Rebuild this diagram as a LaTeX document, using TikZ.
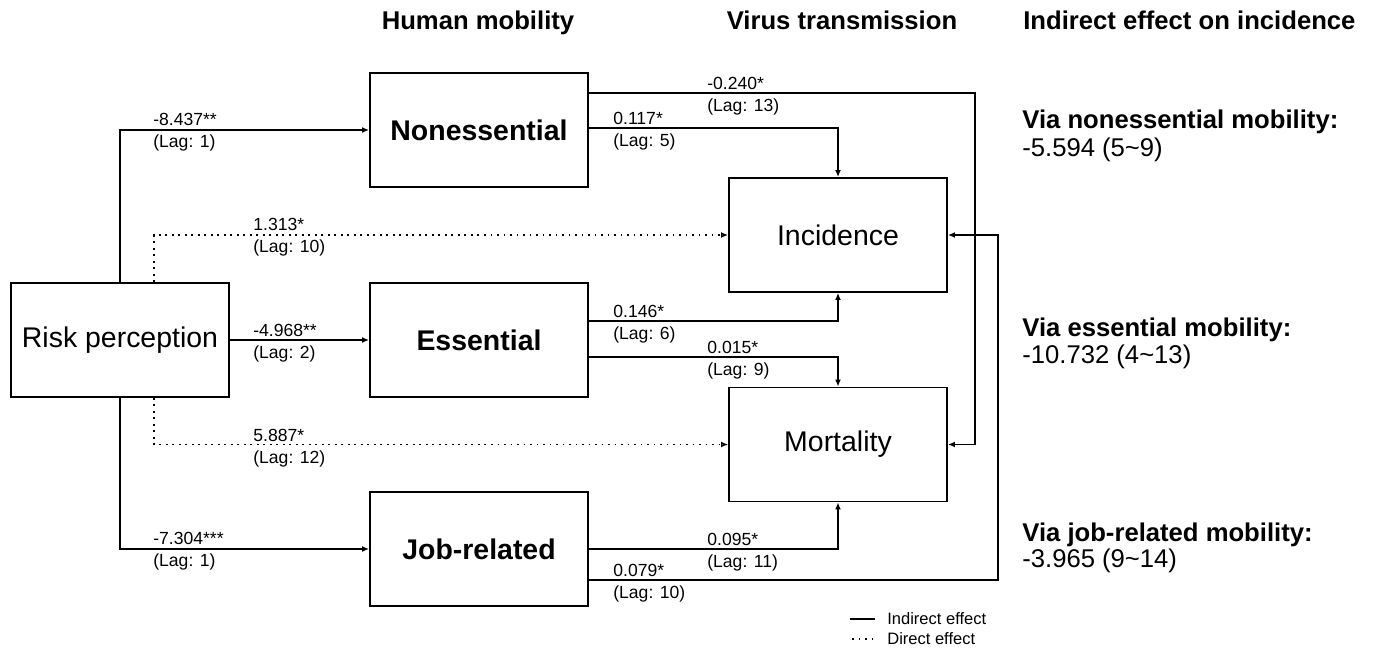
\documentclass[tikz,border=0pt]{standalone}
\usepackage{fontspec}
\setmainfont{Liberation Sans}
\usetikzlibrary{arrows.meta}
\usetikzlibrary{calc}

\tikzset{
	box/.style={draw, line width=1.1pt, minimum width=4.36cm, minimum height=2.28cm, inner sep=0pt, font=\fontsize{16.2}{19}\selectfont},
	head/.style={font=\fontsize{14.6}{17}\bfseries, inner sep=0pt, anchor=base},
	coef/.style={font=\fontsize{10}{12}\selectfont, anchor=west, inner sep=0pt},
	viahead/.style={font=\fontsize{14.6}{17}\bfseries, anchor=west, inner sep=0pt},
	viaval/.style={font=\fontsize{14.6}{17}\selectfont, anchor=west, inner sep=0pt},
	legtext/.style={font=\fontsize{9.4}{11}\selectfont, anchor=west, inner sep=0pt},
	link/.style={line width=1.1pt},
	dotline/.style={line width=1pt, dash pattern=on 1.1pt off 2.6pt},
	effect/.style={link, -{Latex[length=1.4mm, width=1.2mm]}},
	direct/.style={dotline, -{Latex[open, length=1.4mm, width=1.2mm]}}
}

\begin{document}
\begin{tikzpicture}[x=0.02cm, y=-0.02cm]
	\useasboundingbox (0,0) rectangle (1374,648);

	% column headers
	\node [head] (hmob) at (478,30) {Human mobility};
	\node [head] (hvir) at (842,30) {Virus transmission};
	\node [head, anchor=base west] (hind) at (1023,30) {Indirect effect on incidence};

	% boxes
	\node [box] (risk) at (120,340) {Risk perception};
	\node [box] (noness) at (479,130) {\bfseries Nonessential};
	\node [box] (essent) at (479,340) {\bfseries Essential};
	\node [box] (jobrel) at (479,549) {\bfseries Job-related};
	\node [box] (incid) at (838,235) {Incidence};
	\node [box] (mortal) at (838,444.5) {Mortality};

	\coordinate (rtA) at (975,0);
	\coordinate (rtB) at (998,0);

	% risk perception -> mobility
	\draw [effect] (risk.north) |- (noness.west);
	\draw [effect] (risk.east) -- (essent.west);
	\draw [effect] (risk.south) |- (jobrel.west);

	% direct effects
	\draw [direct] ($(risk.north)+(34,0)$) |- (incid.west);
	\draw [direct] ($(risk.south)+(34,0)$) |- (mortal.west);

	% mobility -> transmission
	\draw [effect] ($(noness.east)+(0,-2)$) -| (incid.north);
	\draw [effect] ($(noness.east)+(0,-37)$) -| (rtA |- mortal.east) -- (mortal.east);
	\draw [effect] ($(essent.east)+(0,-19)$) -| (incid.south);
	\draw [effect] ($(essent.east)+(0,17)$) -| (mortal.north);
	\draw [effect] (jobrel.east) -| (mortal.south);
	\draw [effect] ($(jobrel.east)+(0,31)$) -| (rtB |- incid.east) -- (incid.east);

	% coefficients and lags
	\foreach \x/\y/\a/\b [count=\i] in {153/129/-8.437**/(Lag: 1), 253/340/-4.968**/(Lag: 2),
		153/548/-7.304***/(Lag: 1), 253/234/1.313*/(Lag: 10), 253/445/5.887*/(Lag: 12),
		613/128/0.117*/(Lag: 5), 707/93/-0.240*/(Lag: 13), 613/321/0.146*/(Lag: 6),
		707/357/0.015*/(Lag: 9), 707/549/0.095*/(Lag: 11), 613/580/0.079*/(Lag: 10)}
	{
		\node [coef] (ca\i) at (\x,\y-10) {\a};
		\node [coef] (cb\i) at (\x,\y+14) {\b};
	}

	% indirect effects on incidence
	\node [viahead] (via1) at (1022,122) {Via nonessential mobility:};
	\node [viaval] (val1) at (1022,150) {-5.594 (5\textasciitilde9)};
	\node [viahead] (via2) at (1022,330) {Via essential mobility:};
	\node [viaval] (val2) at (1022,357) {-10.732 (4\textasciitilde13)};
	\node [viahead] (via3) at (1022,535) {Via job-related mobility:};
	\node [viaval] (val3) at (1022,561) {-3.965 (9\textasciitilde14)};

	% legend
	\draw [line width=1pt] (850,619) -- (875,619);
	\draw [dotline] (852,639) -- (876,639);
	\node [legtext] (lind) at (887,619) {Indirect effect};
	\node [legtext] (ldir) at (887,639) {Direct effect};
\end{tikzpicture}
\end{document}
